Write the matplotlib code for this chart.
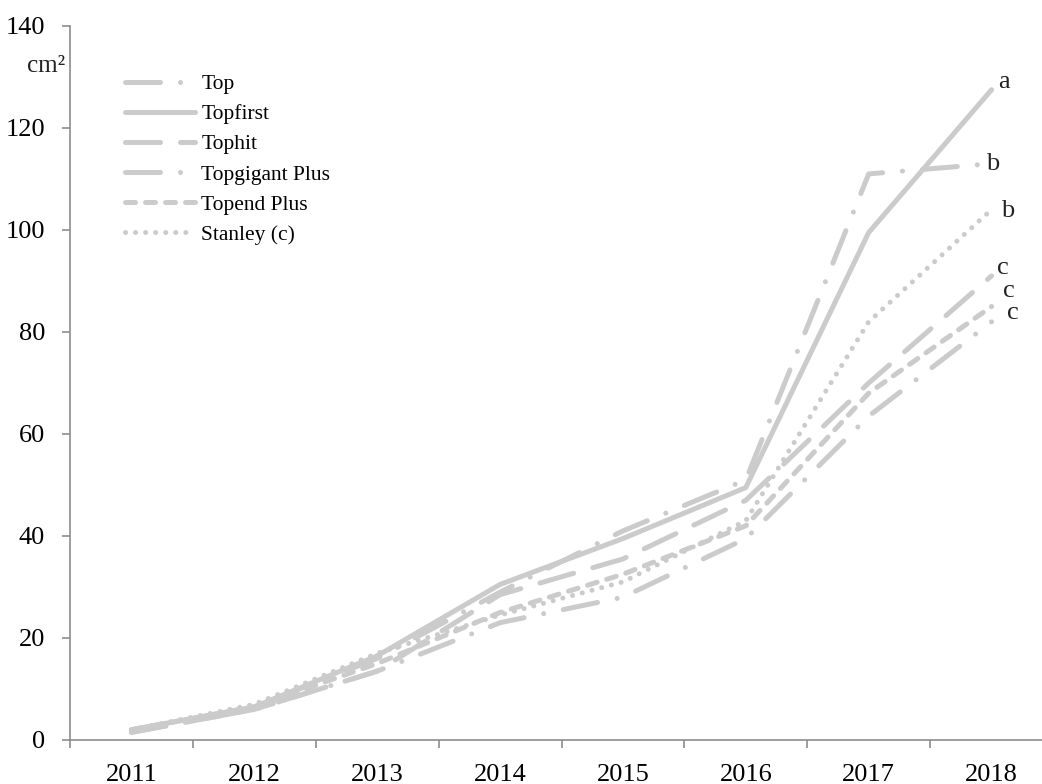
import matplotlib.pyplot as plt

plt.rcParams['font.family'] = ['Liberation Serif', 'DejaVu Serif']

# Data
years = ['2011', '2012', '2013', '2014', '2015', '2016', '2017', '2018']
top = [2, 6.5, 16, 29, 41, 51, 111, 113]
topfirst = [2, 6.5, 16.5, 30.5, 39.5, 49.5, 99.5, 127.5]
tophit = [1.5, 6, 13.5, 28.5, 35.5, 47, 70, 91]
topgigant = [1.5, 6, 13.5, 23, 28, 39.5, 63.5, 82]
topend = [2, 6.5, 15, 25, 32.5, 42, 68, 85]
stanley = [2, 7, 17, 24.5, 31, 43, 82, 104]

names = ['Top', 'Topfirst', 'Tophit', 'Topgigant Plus', 'Topend Plus', 'Stanley (c)']
series = [top, topfirst, tophit, topgigant, topend, stanley]
letters = ['b', 'a', 'c', 'c', 'c', 'b']

# line styles (Excel-like dash types)
styles = [
    (0, (7, 4, 0.01, 4)),
    '-',
    (0, (7, 4)),
    (0, (7, 4, 0.01, 4)),
    (0, (2, 2)),
    (0, (0.01, 2)),
]
# where each end label sits relative to the last point (points)
label_off = [(-4, 0), (5, 5.5), (4, 5.5), (11, 6.5), (8, 11.5), (7, -1)]

grey = '#cbcbcb'
x = list(range(len(years)))

fig = plt.figure(figsize=(10.42, 7.84), dpi=100)
ax = fig.add_axes([70 / 1042, 1 - 740 / 784, 983 / 1042, 714 / 784])

for vals, name, ls in zip(series, names, styles):
    ax.plot(x, vals, color=grey, lw=3.6, ls=ls, label=name,
            dash_capstyle='round', solid_capstyle='round')

for vals, let, off in zip(series, letters, label_off):
    ax.annotate(let, xy=(x[-1], vals[-1]), xytext=off, textcoords='offset points',
                ha='left', va='center', fontsize=19, color='#222222')

ax.set_xlim(-0.5, len(years) - 0.5)
ax.set_ylim(0, 140)
ax.set_yticks(range(0, 141, 20))

# ticks on category boundaries, labels in the middle
ax.set_xticks([i - 0.5 for i in range(len(years) + 1)])
ax.set_xticklabels([])
ax.set_xticks(x, minor=True)
ax.set_xticklabels(years, minor=True)
ax.tick_params(axis='x', which='major', direction='out', length=6, color='#8c8c8c', width=1.2)
ax.tick_params(axis='x', which='minor', length=0, pad=17, labelsize=19)
ax.tick_params(axis='y', direction='out', length=6, color='#8c8c8c', width=1.2, pad=12, labelsize=19)

for s in ['top', 'right']:
    ax.spines[s].set_visible(False)
for s in ['left', 'bottom']:
    ax.spines[s].set_color('#8c8c8c')
    ax.spines[s].set_linewidth(1.2)

fig.text(27 / 1042, 1 - 72 / 784, 'cm²', fontsize=18, ha='left', va='baseline', color='#222222')

leg = ax.legend(loc='upper left', bbox_to_anchor=(125 / 1042, 1 - 74 / 784),
                bbox_transform=fig.transFigure, frameon=False, fontsize=15.5,
                handlelength=3.25, handletextpad=0.3, labelspacing=0.47,
                borderpad=0, borderaxespad=0)

fig.savefig('out.png', dpi=100, facecolor='white')
